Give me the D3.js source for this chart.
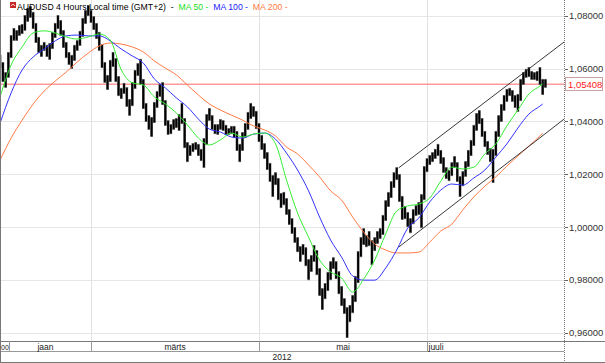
<!DOCTYPE html>
<html>
<head>
<meta charset="utf-8">
<script src="https://cdn.jsdelivr.net/npm/d3@7"></script>
<style>
  body { margin: 0; background: #fff; }
  svg { display: block; font-family: "Liberation Sans", Arial, sans-serif; }
</style>
</head>
<body>
<svg id="chart" width="605" height="363"></svg>
<script>
// Daily high / low of the AUDUSD band, first bar on 28 Jan 2012
const barStart = new Date(2012, 0, 28);
const barHigh = [
  1.0652, 1.0625, 1.0587, 1.0663, 1.0727, 1.0754, 1.0746, 1.0765, 1.0769, 1.0803,
  1.0830, 1.0837, 1.0815, 1.0773, 1.0720, 1.0690, 1.0701, 1.0690, 1.0697, 1.0739,
  1.0773, 1.0803, 1.0784, 1.0746, 1.0701, 1.0663, 1.0652, 1.0690, 1.0708, 1.0743,
  1.0792, 1.0822, 1.0841, 1.0822, 1.0799, 1.0773, 1.0739, 1.0693, 1.0625, 1.0576,
  1.0633, 1.0663, 1.0640, 1.0572, 1.0527, 1.0546, 1.0530, 1.0485, 1.0549, 1.0595,
  1.0621, 1.0637, 1.0561, 1.0470, 1.0424, 1.0417, 1.0474, 1.0515, 1.0542, 1.0549,
  1.0481, 1.0405, 1.0390, 1.0409, 1.0413, 1.0428, 1.0470, 1.0413, 1.0322, 1.0311,
  1.0318, 1.0322, 1.0315, 1.0296, 1.0337, 1.0428, 1.0451, 1.0424, 1.0390, 1.0390,
  1.0409, 1.0405, 1.0387, 1.0375, 1.0383, 1.0383, 1.0364, 1.0315, 1.0360, 1.0394,
  1.0436, 1.0470, 1.0458, 1.0440, 1.0394, 1.0349, 1.0318, 1.0284, 1.0243, 1.0197,
  1.0208, 1.0186, 1.0129, 1.0133, 1.0110, 1.0068, 1.0034, 1.0000, 0.9962, 0.9928,
  0.9936, 0.9924, 0.9879, 0.9894, 0.9932, 0.9913, 0.9845, 0.9769, 0.9788, 0.9830,
  0.9871, 0.9886, 0.9871, 0.9833, 0.9777, 0.9731, 0.9697, 0.9705, 0.9743, 0.9815,
  0.9909, 0.9962, 0.9996, 0.9970, 0.9985, 0.9951, 0.9962, 0.9985, 0.9996, 1.0046,
  1.0102, 1.0133, 1.0174, 1.0208, 1.0227, 1.0201, 1.0118, 1.0080, 1.0057, 1.0034,
  1.0068, 1.0083, 1.0095, 1.0125, 1.0231, 1.0261, 1.0273, 1.0284, 1.0296, 1.0315,
  1.0292, 1.0265, 1.0227, 1.0216, 1.0246, 1.0269, 1.0246, 1.0193, 1.0212, 1.0250,
  1.0292, 1.0330, 1.0387, 1.0432, 1.0443, 1.0413, 1.0364, 1.0326, 1.0299, 1.0296,
  1.0364, 1.0424, 1.0466, 1.0500, 1.0523, 1.0527, 1.0519, 1.0500, 1.0504, 1.0561,
  1.0587, 1.0599, 1.0606, 1.0591, 1.0587, 1.0591, 1.0606, 1.0561, 1.0561
];
const barLow = [
  1.0602, 1.0549, 1.0527, 1.0565, 1.0640, 1.0705, 1.0705, 1.0724, 1.0731, 1.0743,
  1.0777, 1.0792, 1.0750, 1.0697, 1.0659, 1.0644, 1.0667, 1.0644, 1.0633, 1.0674,
  1.0716, 1.0750, 1.0724, 1.0678, 1.0640, 1.0614, 1.0599, 1.0629, 1.0667, 1.0686,
  1.0720, 1.0769, 1.0799, 1.0773, 1.0746, 1.0712, 1.0667, 1.0602, 1.0546, 1.0519,
  1.0549, 1.0606, 1.0549, 1.0496, 1.0485, 1.0504, 1.0455, 1.0421, 1.0458, 1.0523,
  1.0572, 1.0538, 1.0447, 1.0398, 1.0368, 1.0341, 1.0394, 1.0451, 1.0493, 1.0462,
  1.0383, 1.0349, 1.0352, 1.0368, 1.0375, 1.0364, 1.0390, 1.0299, 1.0246, 1.0269,
  1.0284, 1.0292, 1.0269, 1.0250, 1.0224, 1.0311, 1.0402, 1.0368, 1.0352, 1.0349,
  1.0368, 1.0364, 1.0349, 1.0349, 1.0352, 1.0337, 1.0288, 1.0246, 1.0288, 1.0337,
  1.0368, 1.0409, 1.0417, 1.0371, 1.0322, 1.0292, 1.0258, 1.0216, 1.0171, 1.0114,
  1.0159, 1.0102, 1.0072, 1.0083, 1.0046, 1.0008, 0.9974, 0.9940, 0.9905, 0.9868,
  0.9894, 0.9852, 0.9799, 0.9830, 0.9868, 0.9818, 0.9739, 0.9686, 0.9727, 0.9758,
  0.9799, 0.9841, 0.9803, 0.9746, 0.9701, 0.9671, 0.9580, 0.9640, 0.9674, 0.9716,
  0.9788, 0.9886, 0.9932, 0.9924, 0.9928, 0.9856, 0.9909, 0.9936, 0.9955, 0.9970,
  1.0023, 1.0076, 1.0110, 1.0148, 1.0178, 1.0095, 1.0027, 1.0030, 1.0000, 0.9977,
  1.0011, 1.0042, 1.0046, 0.9996, 1.0102, 1.0208, 1.0235, 1.0246, 1.0258, 1.0269,
  1.0239, 1.0205, 1.0182, 1.0174, 1.0193, 1.0224, 1.0171, 1.0114, 1.0155, 1.0190,
  1.0227, 1.0269, 1.0307, 1.0364, 1.0390, 1.0341, 1.0303, 1.0273, 1.0246, 1.0167,
  1.0269, 1.0341, 1.0398, 1.0440, 1.0474, 1.0496, 1.0474, 1.0451, 1.0436, 1.0477,
  1.0538, 1.0565, 1.0568, 1.0557, 1.0557, 1.0553, 1.0538, 1.0500, 1.0527
];

// Moving averages, sampled every 4 days (day offset from barStart)
const maDays = [
  0, 4, 8, 12, 16, 20, 24, 28, 32, 36, 40, 44, 48, 52, 56, 60, 64, 68, 72, 76,
  80, 84, 88, 92, 96, 100, 104, 108, 112, 116, 120, 124, 128, 132, 136, 140, 144, 148, 152, 156,
  160, 164, 168, 172, 176, 180, 184, 188, 192, 196, 197
];
const ma50 = [
  1.0493, 1.0614, 1.0682, 1.0735, 1.0743, 1.0735, 1.0720, 1.0712, 1.0720, 1.0731,
  1.0708, 1.0595, 1.0546, 1.0538, 1.0493, 1.0466, 1.0432, 1.0387, 1.0337, 1.0311,
  1.0330, 1.0356, 1.0341, 1.0352, 1.0356, 1.0315, 1.0178, 1.0053, 0.9962, 0.9875,
  0.9830, 0.9807, 0.9754, 0.9803, 0.9875, 0.9974, 1.0061, 1.0080, 1.0087, 1.0110,
  1.0174, 1.0227, 1.0220, 1.0227, 1.0277, 1.0315, 1.0383, 1.0443, 1.0504, 1.0534,
  1.0542
];
const ma100 = [
  1.0394, 1.0508, 1.0595, 1.0644, 1.0674, 1.0705, 1.0724, 1.0727, 1.0724, 1.0724,
  1.0705, 1.0674, 1.0648, 1.0621, 1.0561, 1.0527, 1.0489, 1.0455, 1.0409, 1.0371,
  1.0360, 1.0341, 1.0337, 1.0352, 1.0356, 1.0333, 1.0280, 1.0216, 1.0137, 1.0038,
  0.9951, 0.9886, 0.9815, 0.9799, 0.9799, 0.9845, 0.9913, 0.9996, 1.0034, 1.0095,
  1.0140, 1.0163, 1.0159, 1.0186, 1.0216, 1.0265, 1.0315, 1.0375, 1.0428, 1.0458,
  1.0466
];
const ma200 = [
  1.0254, 1.0337, 1.0405, 1.0466, 1.0515, 1.0553, 1.0587, 1.0625, 1.0659, 1.0686,
  1.0697, 1.0693, 1.0682, 1.0663, 1.0629, 1.0602, 1.0576, 1.0538, 1.0500, 1.0466,
  1.0443, 1.0424, 1.0405, 1.0383, 1.0368, 1.0345, 1.0303, 1.0277, 1.0235, 1.0190,
  1.0137, 1.0102, 1.0038, 0.9981, 0.9936, 0.9913, 0.9902, 0.9902, 0.9905, 0.9943,
  0.9985, 1.0011, 1.0065, 1.0114, 1.0155, 1.0190, 1.0231, 1.0269, 1.0307, 1.0345,
  1.0356
];

// Trend channel (day offsets and prices of its two ends)
const channelDays = [144.7, 204.8];
const channelUpper = [1.0224, 1.0701];
const channelLower = [0.9924, 1.0409];

const priceTicks = [1.08, 1.06, 1.04, 1.02, 1.00, 0.98, 0.96];
const lastPrice = 1.05408;
const gridDates = [new Date(2012, 2, 1), new Date(2012, 4, 1), new Date(2012, 6, 1)];
const monthCells = [
  { label: "00", start: null, end: new Date(2012, 0, 31, 9) },
  { label: "jaan", start: new Date(2012, 0, 1), end: new Date(2012, 2, 1) },
  { label: "märts", start: new Date(2012, 2, 1), end: new Date(2012, 4, 1) },
  { label: "mai", start: new Date(2012, 4, 1), end: new Date(2012, 6, 1) },
  { label: "juuli", start: new Date(2012, 6, 1), end: new Date(2012, 8, 1) }
];
const yearLabel = "2012";
const titleParts = [
  { text: "AUDUSD 4 Hours Local time (GMT+2)  -  ", color: "#000" },
  { text: "MA 50 -  ", color: "#22dd22" },
  { text: "MA 100 -  ", color: "#2222ff" },
  { text: "MA 200 -", color: "#ff7a45" }
];

const svg = d3.select("#chart");
const W = 605, H = 363;
const plotW = 564, plotH = 341;

const x = d3.scaleTime().domain([gridDates[0], gridDates[2]]).range([91, 427]);
const y = d3.scaleLinear().domain([0.96, 1.08]).range([332.7, 15.8]);
const dayAt = d => new Date(barStart.getTime() + d * 864e5);
const fmt = d3.formatLocale({ decimal: ",", thousands: " ", grouping: [3], currency: ["", ""] }).format(".5f");

svg.append("rect").attr("width", W).attr("height", H).attr("fill", "#fff");

svg.append("defs").append("clipPath").attr("id", "plotClip")
  .append("rect").attr("width", plotW).attr("height", plotH);

const plot = svg.append("g").attr("clip-path", "url(#plotClip)");

// grid
plot.selectAll(".hgrid").data(priceTicks).enter().append("line")
  .attr("x1", 0).attr("x2", plotW)
  .attr("y1", d => Math.round(y(d)) + 0.5).attr("y2", d => Math.round(y(d)) + 0.5)
  .attr("stroke", "#e6e6e6");
plot.selectAll(".vgrid").data(gridDates).enter().append("line")
  .attr("y1", 0).attr("y2", plotH)
  .attr("x1", d => Math.round(x(d)) + 0.5).attr("x2", d => Math.round(x(d)) + 0.5)
  .attr("stroke", "#e2e2e2");

// last price line
plot.append("line")
  .attr("x1", 0).attr("x2", plotW)
  .attr("y1", y(lastPrice)).attr("y2", y(lastPrice))
  .attr("stroke", "#ff9a9a").attr("stroke-width", 1.4);

// price bars: thin wick for the full range, a darker core inside it
const bars = barHigh.map((h, i) => ({ date: dayAt(i), high: h, low: barLow[i] }));
const barG = plot.append("g");
barG.selectAll(".wick").data(bars).enter().append("rect")
  .attr("x", d => x(d.date) - 1.3)
  .attr("width", 2.6)
  .attr("y", d => y(d.high))
  .attr("height", d => y(d.low) - y(d.high))
  .attr("fill", "#555");
barG.selectAll(".core").data(bars).enter().append("rect")
  .attr("x", d => x(d.date) - 0.9)
  .attr("width", 1.8)
  .attr("y", d => y(d.high) + 1)
  .attr("height", d => Math.max(1, y(d.low) - y(d.high) - 2))
  .attr("fill", "#000");

// moving averages
const maLine = values => d3.line()
  .x((d, i) => x(dayAt(maDays[i])))
  .y(d => y(d))
  .curve(d3.curveMonotoneX)(values);
[[ma200, "#ff7a45"], [ma100, "#3333ff"], [ma50, "#33ee33"]].forEach(([vals, col]) => {
  plot.append("path").attr("d", maLine(vals))
    .attr("fill", "none").attr("stroke", col).attr("stroke-width", 1);
});

// channel
[channelUpper, channelLower].forEach(vals => {
  plot.append("line")
    .attr("x1", x(dayAt(channelDays[0]))).attr("y1", y(vals[0]))
    .attr("x2", x(dayAt(channelDays[1]))).attr("y2", y(vals[1]))
    .attr("stroke", "#222").attr("stroke-width", 0.9);
});

// title
svg.append("rect").attr("x", 10).attr("y", 2).attr("width", 6).attr("height", 6).attr("fill", "#c62828");
svg.append("path").attr("d", "M11,6 L13,4 L15,6").attr("stroke", "#fff").attr("fill", "none").attr("stroke-width", 0.8);
const title = svg.append("text").attr("x", 17).attr("y", 9.5)
  .style("font-size", "8.7px").attr("xml:space", "preserve");
titleParts.forEach(p => title.append("tspan").attr("fill", p.color).text(p.text));

// right price axis
svg.append("line").attr("x1", plotW + 0.5).attr("x2", plotW + 0.5).attr("y1", 0).attr("y2", H)
  .attr("stroke", "#777").attr("stroke-dasharray", "1,1");
svg.selectAll(".tick").data(priceTicks).enter().append("line")
  .attr("x1", plotW + 1).attr("x2", plotW + 4)
  .attr("y1", d => Math.round(y(d)) + 0.5).attr("y2", d => Math.round(y(d)) + 0.5)
  .attr("stroke", "#666");
svg.selectAll(".tlabel").data(priceTicks).enter().append("text")
  .attr("x", plotW + 5).attr("y", d => y(d) + 3.5)
  .style("font-size", "9.5px").attr("fill", "#333")
  .text(d => fmt(d));

svg.append("rect")
  .attr("x", plotW + 1.5).attr("y", Math.round(y(lastPrice)) - 6.5)
  .attr("width", 37).attr("height", 13)
  .attr("fill", "#fff").attr("stroke", "#c9a0a0");
svg.append("text").attr("x", plotW + 4).attr("y", y(lastPrice) + 3.5)
  .style("font-size", "9.5px").attr("fill", "#ff2020").text(fmt(lastPrice));

// bottom time axis
const axisG = svg.append("g");
axisG.append("line").attr("x1", 0).attr("x2", W).attr("y1", plotH + 0.5).attr("y2", plotH + 0.5).attr("stroke", "#777");
axisG.append("line").attr("x1", 0).attr("x2", plotW).attr("y1", 351.5).attr("y2", 351.5).attr("stroke", "#999");
axisG.append("line").attr("x1", 0).attr("x2", W).attr("y1", H - 0.5).attr("y2", H - 0.5).attr("stroke", "#777");
axisG.append("line").attr("x1", 0.5).attr("x2", 0.5).attr("y1", 0).attr("y2", H).attr("stroke", "#777");

monthCells.forEach(c => {
  const x0 = c.start ? Math.max(0, x(c.start)) : 0;
  const x1 = Math.min(plotW, x(c.end));
  if (x(c.end) < plotW) {
    axisG.append("line").attr("x1", Math.round(x1) + 0.5).attr("x2", Math.round(x1) + 0.5)
      .attr("y1", plotH).attr("y2", 351).attr("stroke", "#999");
  }
  const clippedRight = x(c.end) > plotW;
  const clippedLeft = !c.start;
  axisG.append("text")
    .attr("x", clippedRight ? x0 + 1.5 : clippedLeft ? x0 + 1 : (x0 + x1) / 2)
    .attr("y", 349.5)
    .attr("text-anchor", clippedRight || clippedLeft ? "start" : "middle")
    .style("font-size", clippedLeft ? "7px" : "8.5px").attr("fill", "#222")
    .text(c.label);
});
axisG.append("text").attr("x", plotW / 2).attr("y", 360)
  .attr("text-anchor", "middle").style("font-size", "8.5px").attr("fill", "#222")
  .text(yearLabel);
</script>
</body>
</html>
